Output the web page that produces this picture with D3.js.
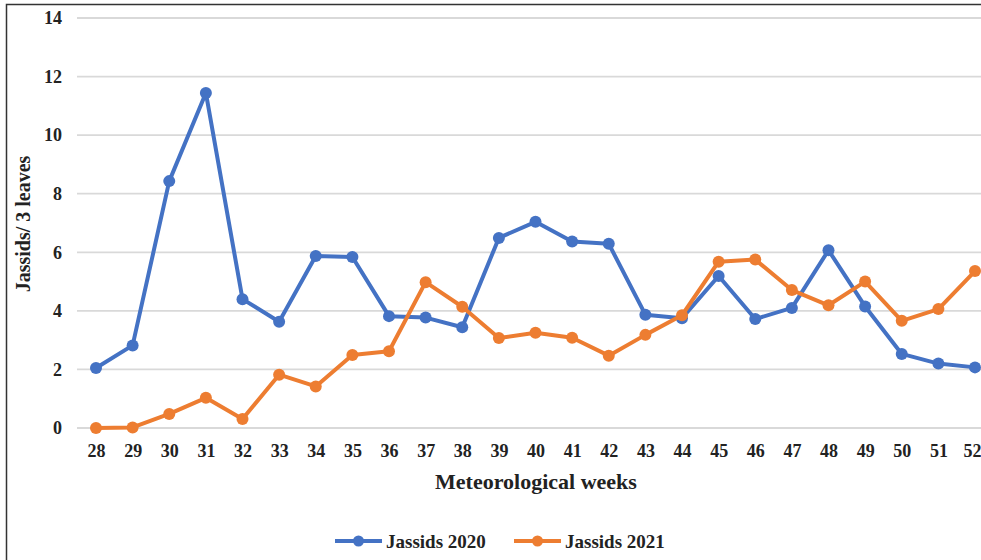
<!DOCTYPE html>
<html><head><meta charset="utf-8">
<script src="https://cdn.jsdelivr.net/npm/d3@7"></script>
<style>body{margin:0;background:#fff}svg{display:block}</style>
</head><body>
<svg id="c" width="981" height="560"></svg>
<script>
const weeks = ["28","29","30","31","32","33","34","35","36","37","38","39","40","41","42","43","44","45","46","47","48","49","50","51","52"];
const jassids2020 = [2.05,2.82,8.43,11.44,4.4,3.63,5.87,5.84,3.82,3.77,3.44,6.49,7.04,6.37,6.29,3.87,3.75,5.19,3.72,4.1,6.07,4.15,2.53,2.2,2.07];
const jassids2021 = [0,0.02,0.48,1.03,0.31,1.82,1.42,2.49,2.62,4.98,4.14,3.07,3.25,3.08,2.47,3.18,3.85,5.68,5.75,4.71,4.19,5.0,3.66,4.06,5.36];
const yTicks = [0,2,4,6,8,10,12,14];
const seriesNames = ["Jassids 2020","Jassids 2021"];
const colors = ["#4472C4","#ED7D31"];

const svg = d3.select("#c");
const font = "'Liberation Serif','Times New Roman',serif";
// border
svg.append("path").attr("d","M6.5,560 V4.5 H981").attr("fill","none").attr("stroke","#333").attr("stroke-width",1.5);

const x = d3.scalePoint().domain(weeks).range([96,975]);
const y = d3.scaleLinear().domain([0,14]).range([428,18]);

const grid = svg.append("g");
yTicks.forEach(t=>{
  grid.append("line").attr("x1",77).attr("x2",1000).attr("y1",y(t)).attr("y2",y(t))
    .attr("stroke","#d9d9d9").attr("stroke-width",1.8);
});

const yAxis = svg.append("g").attr("transform","translate(62,0)")
  .call(d3.axisLeft(y).tickValues(yTicks).tickSize(0).tickPadding(0));
yAxis.select(".domain").remove();
yAxis.selectAll("text").attr("font-family",font).attr("font-weight","bold").attr("font-size",18).attr("fill","#222");

const xAxis = svg.append("g").attr("transform","translate(0,444)")
  .call(d3.axisBottom(x).tickSize(0).tickPadding(0));
xAxis.select(".domain").remove();
xAxis.selectAll("text").attr("font-family",font).attr("font-weight","bold").attr("font-size",18).attr("fill","#222");
xAxis.selectAll("text").filter(d=>d===weeks[weeks.length-1]).attr("dx",-3);

svg.append("text").attr("x",536).attr("y",489).attr("text-anchor","middle")
  .attr("font-family",font).attr("font-weight","bold").attr("font-size",22).attr("fill","#222")
  .text("Meteorological weeks");
svg.append("text").attr("transform","translate(30,224) rotate(-90)").attr("text-anchor","middle")
  .attr("font-family",font).attr("font-weight","bold").attr("font-size",20).attr("fill","#222")
  .text("Jassids/ 3 leaves");

const line = d3.line().x((d,i)=>x(weeks[i])).y(d=>y(d));
[jassids2020,jassids2021].forEach((s,k)=>{
  const g = svg.append("g");
  g.append("path").datum(s).attr("d",line).attr("fill","none").attr("stroke",colors[k]).attr("stroke-width",4).attr("stroke-linejoin","round");
  g.selectAll("circle").data(s).join("circle").attr("cx",(d,i)=>x(weeks[i])).attr("cy",d=>y(d)).attr("r",6).attr("fill",colors[k]);
});

const legX = [335,514];
seriesNames.forEach((n,k)=>{
  const g = svg.append("g").attr("transform",`translate(${legX[k]},541)`);
  g.append("line").attr("x1",0).attr("x2",47).attr("stroke",colors[k]).attr("stroke-width",4);
  g.append("circle").attr("cx",23.5).attr("r",5.5).attr("fill",colors[k]);
  g.append("text").attr("x",51).attr("y",6.5).attr("font-family",font).attr("font-weight","bold").attr("font-size",19).attr("fill","#222").text(n);
});
</script>
</body></html>
